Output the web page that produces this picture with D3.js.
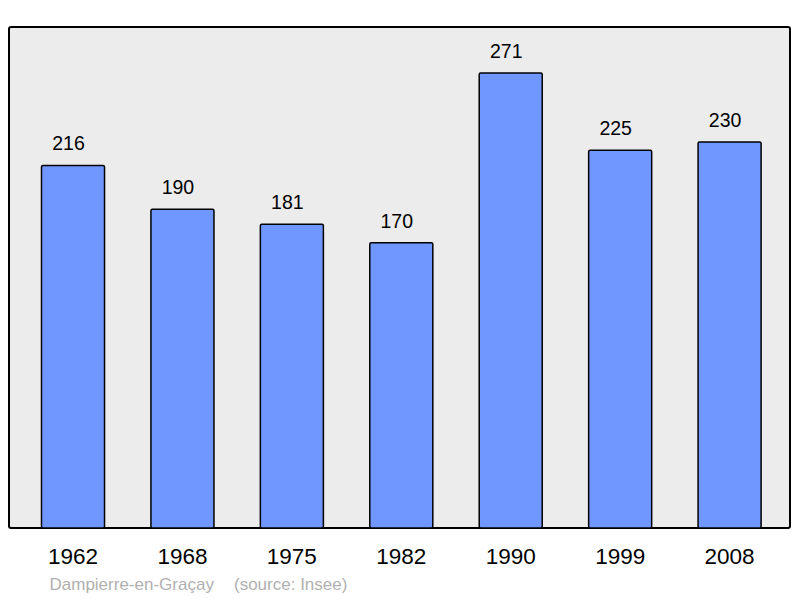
<!DOCTYPE html>
<html><head><meta charset="utf-8">
<script src="https://cdn.jsdelivr.net/npm/d3@7"></script>
<style>body{margin:0;background:#fff}svg{display:block}text{font-family:"Liberation Sans",Arial,sans-serif}</style>
</head><body>
<script>
const years = ["1962","1968","1975","1982","1990","1999","2008"];
const population = [216,190,181,170,271,225,230];
const placeName = "Dampierre-en-Graçay";
const sourceText = "(source: Insee)";

const W = 800, H = 598;
const svg = d3.select("body").append("svg").attr("width", W).attr("height", H);

const frame = {x0: 9, y0: 27, x1: 790, y1: 528};
svg.append("rect")
  .attr("x", frame.x0).attr("y", frame.y0)
  .attr("width", frame.x1 - frame.x0).attr("height", frame.y1 - frame.y0)
  .attr("rx", 2).attr("fill", "#ececec").attr("stroke", "#000").attr("stroke-width", 2);

const x = d3.scaleBand().domain(years).range([18.3, 784.3]).paddingInner(0.424).paddingOuter(0.212);
const y = d3.scaleLinear().domain([0, d3.max(population) * 1.1]).range([frame.y1, frame.y0]);

const data = years.map((yr, i) => ({yr, v: population[i]}));

svg.selectAll("rect.bar").data(data).enter().append("rect")
  .attr("class", "bar")
  .attr("x", d => x(d.yr)).attr("y", d => y(d.v) + 0.5)
  .attr("width", x.bandwidth()).attr("height", d => y(0) - y(d.v) - 0.5)
  .attr("rx", 1.5)
  .attr("fill", "#7097ff").attr("stroke", "#000").attr("stroke-width", 1.5);

svg.selectAll("text.val").data(data).enter().append("text")
  .attr("class", "val")
  .attr("x", d => x(d.yr) + x.bandwidth() / 2 - 4.5)
  .attr("y", d => y(d.v) - 14.5)
  .attr("text-anchor", "middle").attr("font-size", 19.5).attr("fill", "#000")
  .text(d => d.v);

svg.selectAll("text.yr").data(data).enter().append("text")
  .attr("class", "yr")
  .attr("x", d => x(d.yr) + x.bandwidth() / 2)
  .attr("y", 564)
  .attr("text-anchor", "middle").attr("font-size", 22.5).attr("fill", "#000")
  .text(d => d.yr);

svg.append("text").attr("x", 49.5).attr("y", 589.5).attr("font-size", 17).attr("fill", "#b0b0b0").text(placeName);
svg.append("text").attr("x", 234).attr("y", 589.5).attr("font-size", 17).attr("fill", "#b0b0b0").text(sourceText);
</script>
</body></html>
